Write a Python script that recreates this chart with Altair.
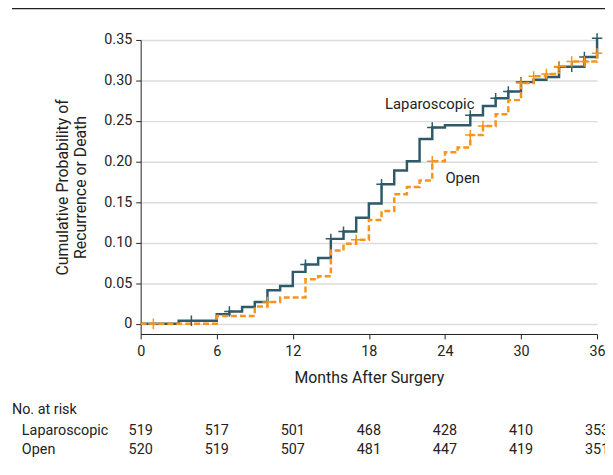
import altair as alt
import pandas as pd

# Kaplan-Meier style step data (months, cumulative probability)
lap_months = [0, 3, 6, 7, 8, 9, 10, 11, 12, 13, 14, 15, 16, 17, 18, 19, 20, 21, 22, 23, 24, 26, 27, 28, 29, 30, 31, 32, 33, 35, 36]
lap_values = [0, 0.0037, 0.0119, 0.0151, 0.0208, 0.0269, 0.0412, 0.0465, 0.064, 0.073, 0.0811, 0.1047, 0.1137, 0.1308, 0.1483, 0.172, 0.189, 0.2004, 0.2278, 0.242, 0.2449, 0.257, 0.2685, 0.2782, 0.2865, 0.298, 0.3008, 0.3043, 0.317, 0.329, 0.352]
lap_censor_months = [4, 7, 13, 15, 16, 19, 23, 26, 28, 29, 30, 33, 34, 35, 36]
lap_censor_values = [0.0037, 0.0151, 0.073, 0.1047, 0.1137, 0.172, 0.242, 0.257, 0.2782, 0.2865, 0.298, 0.317, 0.317, 0.329, 0.352]

open_months = [0, 6, 9, 10, 11, 13, 14, 15, 16, 17, 18, 19, 20, 21, 22, 23, 24, 25, 26, 27, 28, 29, 30, 31, 32, 33, 34, 36]
open_values = [0, 0.0095, 0.0213, 0.0269, 0.0323, 0.055, 0.0587, 0.0904, 0.0986, 0.1035, 0.128, 0.139, 0.1597, 0.1687, 0.1768, 0.2004, 0.2114, 0.2175, 0.2327, 0.244, 0.2583, 0.2758, 0.297, 0.3051, 0.308, 0.3174, 0.3235, 0.3335]
open_censor_months = [1, 10, 17, 23, 26, 27, 30, 31, 32, 33, 34, 35, 36]
open_censor_values = [0, 0.0269, 0.1035, 0.2004, 0.2327, 0.244, 0.297, 0.3051, 0.308, 0.3174, 0.3235, 0.3235, 0.3335]

risk_months = [0, 6, 12, 18, 24, 30, 36]
risk_lap = [519, 517, 501, 468, 428, 410, 353]
risk_open = [520, 519, 507, 481, 447, 419, 351]

y_ticks = [0, 0.05, 0.10, 0.15, 0.20, 0.25, 0.30, 0.35]
x_ticks = [0, 6, 12, 18, 24, 30, 36]

LAP = "#2f5a69"
OPEN = "#f7941d"
FONT = "Roboto"
INK = "#222222"

W, H = 461, 297

lap_df = pd.DataFrame({"m": lap_months, "p": lap_values})
open_df = pd.DataFrame({"m": open_months, "p": open_values})
lapc_df = pd.DataFrame({"m": lap_censor_months, "p": lap_censor_values})
openc_df = pd.DataFrame({"m": open_censor_months, "p": open_censor_values})
risk_df = pd.DataFrame({"m": risk_months, "lap": [str(v) for v in risk_lap], "open": [str(v) for v in risk_open]})

xs = alt.Scale(domain=[0, 36], nice=False)
ys = alt.Scale(domain=[-0.0126, 0.35], nice=False)

x_axis = alt.Axis(values=x_ticks, title="Months After Surgery", grid=False,
                  labelFontSize=14.5, titleFontSize=16, labelFont=FONT, titleFont=FONT,
                  labelColor=INK, titleColor=INK, domainColor=INK, tickColor=INK,
                  tickSize=5, labelPadding=6, titlePadding=11, titleFontWeight="normal",
                  labelFlush=False)
y_axis = alt.Axis(values=y_ticks, title=["Cumulative Probability of", "Recurrence or Death"],
                  labelExpr="datum.value == 0 ? '0' : format(datum.value, '.2f')",
                  grid=True, gridColor="#dcdcdc", gridWidth=1.5,
                  labelFontSize=14.5, titleFontSize=16, labelFont=FONT, titleFont=FONT,
                  labelColor=INK, titleColor=INK, domainColor=INK, tickColor=INK,
                  tickSize=5, labelPadding=4, titlePadding=15, titleFontWeight="normal",
                  titleLineHeight=19)

lap_line = alt.Chart(lap_df).mark_line(interpolate="step-after", color=LAP, strokeWidth=2.5).encode(
    x=alt.X("m:Q", scale=xs, axis=x_axis),
    y=alt.Y("p:Q", scale=ys, axis=y_axis),
)
open_line = alt.Chart(open_df).mark_line(interpolate="step-after", color=OPEN, strokeWidth=2.5,
                                         strokeDash=[6, 3]).encode(
    x=alt.X("m:Q", scale=xs), y=alt.Y("p:Q", scale=ys))

plus = "M-1,0L1,0M0,-1L0,1"
lap_c = alt.Chart(lapc_df).mark_point(shape=plus, size=110, color=LAP, strokeWidth=1.5, filled=False, opacity=1).encode(
    x=alt.X("m:Q", scale=xs), y=alt.Y("p:Q", scale=ys))
open_c = alt.Chart(openc_df).mark_point(shape=plus, size=110, color=OPEN, strokeWidth=1.5, filled=False, opacity=1).encode(
    x=alt.X("m:Q", scale=xs), y=alt.Y("p:Q", scale=ys))

lbl_df = pd.DataFrame({"m": [22.8, 25.4], "p": [0.271, 0.180], "t": ["Laparoscopic", "Open"]})
labels = alt.Chart(lbl_df).mark_text(font=FONT, fontSize=15, color=INK, align="center", baseline="middle").encode(
    x=alt.X("m:Q", scale=xs), y=alt.Y("p:Q", scale=ys), text="t:N")

# top decorative rule
top_rule = alt.Chart(pd.DataFrame({"a": [0]})).mark_rule(color=INK, strokeWidth=2, clip=False).encode(
    x=alt.value(-130), x2=alt.value(480), y=alt.value(-32))

# number at risk table
tbl_font = dict(font=FONT, fontSize=14.5, color=INK, baseline="alphabetic")
risk_head = alt.Chart(pd.DataFrame({"t": ["No. at risk"]})).mark_text(align="left", **tbl_font).encode(
    x=alt.value(-130), y=alt.value(378), text="t:N")
risk_rows = alt.Chart(pd.DataFrame({"t": ["Laparoscopic", "Open"], "y": [399, 418]})).mark_text(align="left", **tbl_font).encode(
    x=alt.value(-120), y=alt.Y("y:Q", scale=None), text="t:N")
risk_lap_t = alt.Chart(risk_df).mark_text(align="center", **tbl_font).encode(
    x=alt.X("m:Q", scale=xs), y=alt.value(399), text="lap:N")
risk_open_t = alt.Chart(risk_df).mark_text(align="center", **tbl_font).encode(
    x=alt.X("m:Q", scale=xs), y=alt.value(418), text="open:N")

chart = alt.layer(lap_line, open_line, lap_c, open_c, labels, top_rule,
                  risk_head, risk_rows, risk_lap_t, risk_open_t).properties(
    width=W, height=H,
    autosize=alt.AutoSizeParams(type="none"),
    padding={"left": 134, "top": 30, "right": 8, "bottom": 124},
    background="white",
).configure_view(stroke=None)

chart.save("out.html", embed_options={"renderer": "svg", "actions": False})
